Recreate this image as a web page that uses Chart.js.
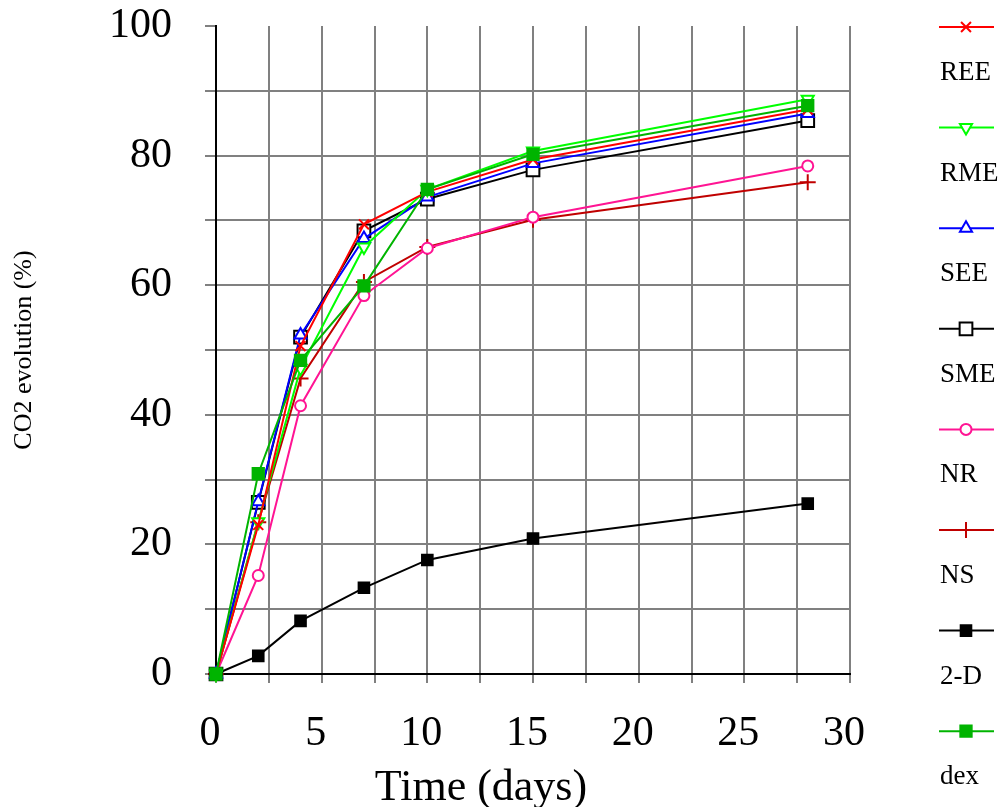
<!DOCTYPE html>
<html>
<head>
<meta charset="utf-8">
<script src="https://cdn.jsdelivr.net/npm/chart.js@4/dist/chart.umd.min.js"></script>
<style>
  body { margin: 0; background: #fff; }
  #wrap { position: relative; width: 1005px; height: 807px; }
  #xTitle {
    position: absolute; left: 481px; top: 760px; transform: translateX(-50%);
    font: 44px "Liberation Serif", "Times New Roman", serif; color: #000; white-space: nowrap;
  }
</style>
</head>
<body>
<div id="wrap">
  <canvas id="chart" width="1005" height="807"></canvas>
  <div id="xTitle">Time (days)</div>
</div>
<script>
// data
const days = [0, 2, 4, 7, 10, 15, 28];
const seriesNames = ["REE", "RME", "SEE", "SME", "NR", "NS", "2-D", "dex"];
const ree = [0, 23.0, 50.6, 69.4, 74.4, 79.4, 87.1];
const rme = [0, 23.5, 47.2, 65.9, 74.8, 80.7, 88.7];
const see = [0, 26.6, 52.3, 67.2, 73.6, 78.8, 86.5];
const sme = [0, 26.5, 52.0, 68.4, 73.3, 77.8, 85.4];
const nr = [0, 15.2, 41.4, 58.4, 65.7, 70.5, 78.4];
const ns = [0, 23.4, 45.6, 60.5, 65.9, 70.1, 75.9];
const twoD = [0, 2.8, 8.2, 13.3, 17.6, 20.9, 26.3];
const dex = [0, 30.9, 48.4, 59.9, 74.8, 80.2, 87.7];

const serif = '"Liberation Serif", "Times New Roman", serif';
const gridGray = "#808080";

function series(name, values, color, style, radius, fill, rotation) {
  return {
    label: name,
    data: days.map((d, i) => ({ x: d, y: values[i] })),
    borderColor: color,
    backgroundColor: fill,
    borderWidth: 2,
    pointStyle: style,
    pointRadius: radius,
    pointBorderWidth: 2,
    pointBorderColor: color,
    pointBackgroundColor: fill,
    pointRotation: rotation || 0,
    tension: 0,
    clip: false,
    order: 0,
  };
}

const datasets = [
  series(seriesNames[0], ree, "#ff0000", "crossRot", 7, "#ff0000"),
  series(seriesNames[1], rme, "#00ff00", "triangle", 7, "#ffffff", 180),
  series(seriesNames[2], see, "#0000ff", "triangle", 7, "#ffffff"),
  series(seriesNames[3], sme, "#000000", "rect", 9, "#ffffff"),
  series(seriesNames[4], nr, "#ff1493", "circle", 5.5, "#ffffff"),
  series(seriesNames[5], ns, "#c00000", "cross", 8, "#c00000"),
  series(seriesNames[6], twoD, "#000000", "rect", 7.5, "#000000"),
  series(seriesNames[7], dex, "#00b400", "rect", 8, "#00b400"),
];
// dex sits on top of the others, like in the original
datasets[7].order = -1;

// legend at the right: line sample with marker, name underneath
const sideLegend = {
  id: "sideLegend",
  afterDraw(chart) {
    const ctx = chart.ctx;
    chart.data.datasets.forEach((ds, i) => {
      const y = 27 + i * 100.6;
      ctx.save();
      ctx.strokeStyle = ds.borderColor;
      ctx.lineWidth = 2;
      ctx.beginPath();
      ctx.moveTo(939, y);
      ctx.lineTo(994, y);
      ctx.stroke();
      ctx.fillStyle = ds.pointBackgroundColor;
      Chart.helpers.drawPoint(ctx, {
        pointStyle: ds.pointStyle,
        rotation: ds.pointRotation,
        radius: ds.pointRadius,
        borderWidth: 2,
      }, 966, y);
      ctx.fillStyle = "#000";
      ctx.font = "27px " + serif;
      ctx.textAlign = "left";
      ctx.textBaseline = "alphabetic";
      ctx.fillText(ds.label, 940, y + 53);
      ctx.restore();
    });
  },
};

new Chart(document.getElementById("chart"), {
  type: "line",
  data: { datasets: datasets },
  plugins: [sideLegend],
  options: {
    responsive: false,
    animation: false,
    layout: { padding: { top: 26, right: 155, left: 0, bottom: 0 } },
    plugins: { legend: { display: false }, tooltip: { enabled: false } },
    scales: {
      x: {
        type: "linear",
        min: 0,
        max: 30,
        afterFit: (s) => {
          s.height = 133;
          s.paddingLeft = 0;
          s.paddingRight = 0;
        },
        ticks: {
          stepSize: 2.5,
          autoSkip: false,
          maxRotation: 0,
          padding: 26,
          labelOffset: -6,
          color: "#000",
          font: { family: serif, size: 42 },
          callback: (v) => (v % 5 === 0 ? String(v) : ""),
        },
        grid: { color: gridGray, lineWidth: 2, tickLength: 9, tickColor: gridGray },
        border: { color: "#000", width: 2 },
      },
      y: {
        min: 0,
        max: 100,
        afterFit: (s) => {
          s.width = 216;
          s.paddingTop = 0;
          s.paddingBottom = 0;
        },
        ticks: {
          stepSize: 10,
          autoSkip: false,
          padding: 33,
          color: "#000",
          font: { family: serif, size: 42 },
          callback: (v) => (v % 20 === 0 ? String(v) : ""),
        },
        grid: {
          color: (c) => (c.tick && c.tick.value === 100 ? "rgba(0,0,0,0)" : gridGray),
          tickColor: gridGray,
          lineWidth: 2,
          tickLength: 11,
        },
        border: { color: "#000", width: 2 },
        title: {
          display: true,
          text: "CO2 evolution (%)",
          color: "#000",
          font: { family: serif, size: 26 },
          padding: { top: 9, bottom: 0 },
        },
      },
    },
  },
});
</script>
</body>
</html>
